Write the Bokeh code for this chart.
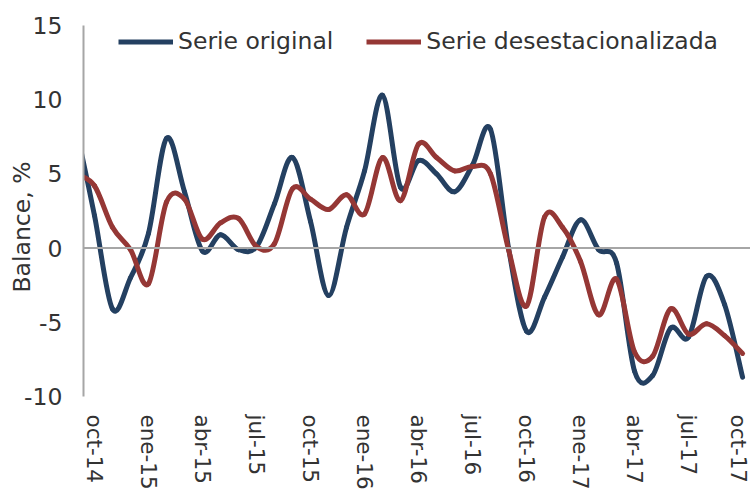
from bokeh.plotting import figure
from bokeh.models import Range1d, FixedTicker, Span, Legend, LegendItem, Title
from bokeh.embed import file_html
from bokeh.resources import INLINE

# ---- data (monthly, sep-14 .. oct-17; sep-14 is clipped by the axis) ----
months = ["sep-14", "oct-14", "nov-14", "dic-14", "ene-15", "feb-15", "mar-15", "abr-15",
          "may-15", "jun-15", "jul-15", "ago-15", "sep-15", "oct-15", "nov-15", "dic-15",
          "ene-16", "feb-16", "mar-16", "abr-16", "may-16", "jun-16", "jul-16", "ago-16",
          "sep-16", "oct-16", "nov-16", "dic-16", "ene-17", "feb-17", "mar-17", "abr-17",
          "may-17", "jun-17", "jul-17", "ago-17", "sep-17", "oct-17"]
serie_original = [8.0, 2.2, -4.1, -2.0, 1.0, 7.4, 3.8, -0.2, 0.9, -0.1, 0.1, 3.0, 6.1, 1.8,
                  -3.2, 1.4, 5.2, 10.3, 4.1, 5.9, 5.0, 3.8, 5.6, 8.0, 0.0, -5.6, -3.3, -0.6,
                  1.9, -0.1, -1.0, -8.3, -8.6, -5.4, -6.0, -1.9, -3.8, -8.7]
serie_desest = [5.0, 4.2, 1.4, -0.1, -2.4, 3.1, 3.3, 0.6, 1.7, 2.0, 0.1, 0.3, 4.0, 3.3,
                2.6, 3.6, 2.3, 6.1, 3.2, 7.0, 6.1, 5.2, 5.5, 5.0, -0.1, -3.9, 2.1, 1.4,
                -0.9, -4.5, -2.1, -7.0, -7.3, -4.1, -5.8, -5.1, -5.9, -7.1]
tick_labels = ["oct-14", "ene-15", "abr-15", "jul-15", "oct-15", "ene-16", "abr-16",
               "jul-16", "oct-16", "ene-17", "abr-17", "jul-17", "oct-17"]
y_ticks = [-10, -5, 0, 5, 10, 15]

xs = [i - 1 for i in range(len(months))]   # oct-14 -> 0
tick_pos = [months.index(t) - 1 for t in tick_labels]

FONT = "DejaVu Sans"
FS = "23.5px"
TXT = "#333333"
BLUE = "#244061"
RED = "#953735"
GRAY = "#A6A6A6"


def smooth_segments(x, y):
    """Catmull-Rom style cubic Bezier segments (like Excel's smoothed line)."""
    n = len(x)
    out = dict(x0=[], y0=[], x1=[], y1=[], cx0=[], cy0=[], cx1=[], cy1=[])
    for k in range(n - 1):
        a = max(k - 1, 0)
        d = min(k + 2, n - 1)
        out["x0"].append(x[k]); out["y0"].append(y[k])
        out["x1"].append(x[k + 1]); out["y1"].append(y[k + 1])
        out["cx0"].append(x[k] + (x[k + 1] - x[a]) / 6.0)
        out["cy0"].append(y[k] + (y[k + 1] - y[a]) / 6.0)
        out["cx1"].append(x[k + 1] - (x[d] - x[k]) / 6.0)
        out["cy1"].append(y[k + 1] - (y[d] - y[k]) / 6.0)
    return out


p = figure(width=750, height=492, output_backend="svg", toolbar_location=None,
           x_range=Range1d(-0.61, 36.44), y_range=Range1d(-10, 15),
           min_border_left=83, min_border_top=25, min_border_bottom=96, min_border_right=0)
p.outline_line_color = None
p.xgrid.visible = False
p.ygrid.visible = False
p.background_fill_color = "white"

p.add_layout(Span(location=0, dimension="width", line_color=GRAY, line_width=2))

b1 = p.bezier(line_color=BLUE, line_width=5, line_cap="round", **smooth_segments(xs, serie_original))
b2 = p.bezier(line_color=RED, line_width=5, line_cap="round", **smooth_segments(xs, serie_desest))

nan = float("nan")
leg1 = p.line(x=[nan], y=[nan], line_color=BLUE, line_width=5)
leg2 = p.line(x=[nan], y=[nan], line_color=RED, line_width=5)
legend = Legend(items=[LegendItem(label="Serie original", renderers=[leg1]),
                       LegendItem(label="Serie desestacionalizada", renderers=[leg2])],
                orientation="horizontal", location=(35, 341),
                label_text_font=FONT, label_text_font_size=FS, label_text_color=TXT,
                glyph_width=55, glyph_height=27, label_height=27, label_standoff=5,
                spacing=33, padding=0, margin=0,
                background_fill_alpha=0, border_line_alpha=0)
p.add_layout(legend)

# x axis
xa = p.xaxis[0]
xa.ticker = FixedTicker(ticks=tick_pos)
xa.major_label_overrides = {tp: lbl for tp, lbl in zip(tick_pos, tick_labels)}
xa.major_label_orientation = "vertical"
xa.axis_line_color = None
xa.major_tick_line_color = None
xa.minor_tick_line_color = None
xa.major_label_standoff = 12
xa.major_label_text_font = FONT
xa.major_label_text_font_size = "21.5px"
xa.major_label_text_color = TXT

# y axis
ya = p.yaxis[0]
ya.ticker = FixedTicker(ticks=y_ticks)
ya.major_label_overrides = {t: str(t) for t in y_ticks}
ya.axis_line_color = GRAY
ya.axis_line_width = 2
ya.major_tick_line_color = None
ya.minor_tick_line_color = None
ya.major_label_standoff = 15
ya.major_label_text_font = FONT
ya.major_label_text_font_size = FS
ya.major_label_text_color = TXT

# y axis title, a little below the frame centre as in the reference
p.add_layout(Title(text="Balance, %", align="left", offset=104, standoff=-28,
                   text_font=FONT, text_font_size=FS, text_font_style="normal",
                   text_color=TXT), "left")

open("out.html", "w").write(file_html(p, INLINE))
